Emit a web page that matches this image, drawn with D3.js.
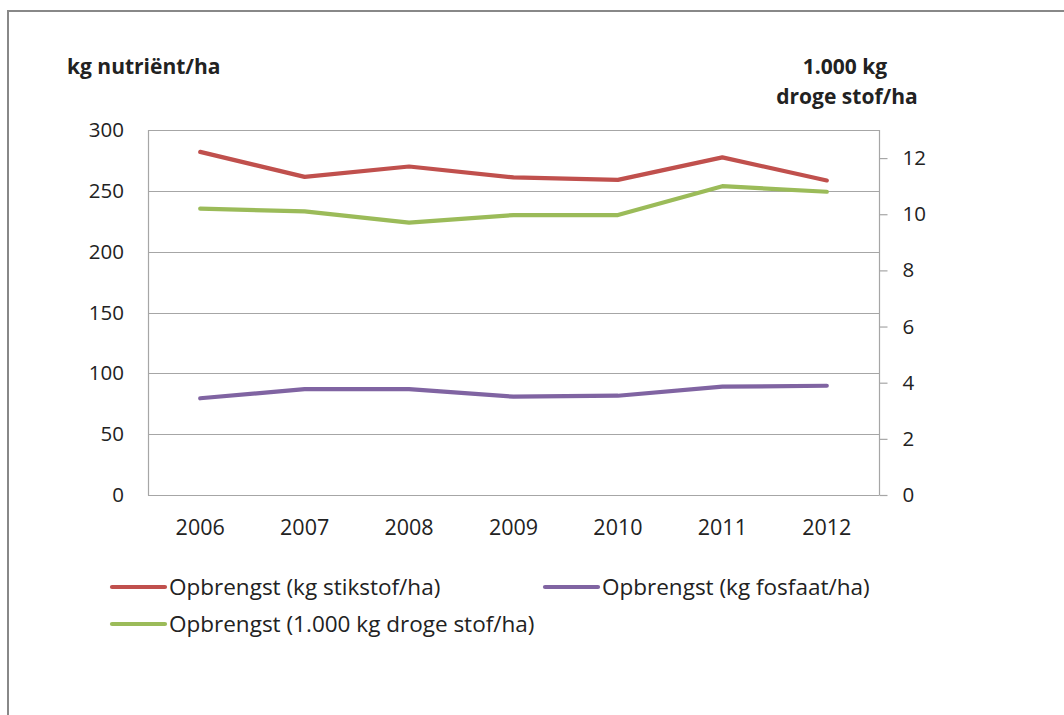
<!DOCTYPE html>
<html><head><meta charset="utf-8">
<script src="https://cdn.jsdelivr.net/npm/d3@7"></script>
<style>body{margin:0;background:#fff}svg{display:block}text{font-family:"Open Sans",Lato,sans-serif;fill:#222}</style>
</head><body>
<svg id="c" width="1064" height="715"></svg>
<script>
const years = ["2006","2007","2008","2009","2010","2011","2012"];
const stikstof = [282, 261.5, 270, 261, 259, 277.5, 258.5];
const fosfaat = [79.5, 87, 87, 80.8, 81.6, 89, 89.8];
const drogeStof = [10.2, 10.1, 9.7, 9.97, 9.97, 11.0, 10.8];
const leftTicks = [0, 50, 100, 150, 200, 250, 300];
const rightTicks = [0, 2, 4, 6, 8, 10, 12];
const seriesNames = ["Opbrengst (kg stikstof/ha)", "Opbrengst (kg fosfaat/ha)", "Opbrengst (1.000 kg droge stof/ha)"];
const colors = ["#C0504D", "#8064A2", "#9BBB59"];

const svg = d3.select("#c");
const L = 148, R = 879, T = 130, B = 495;
const x = d3.scaleBand().domain(years).range([L, R]);
const yL = d3.scaleLinear().domain([0, 300]).range([B, T]);
const yR = d3.scaleLinear().domain([0, 13]).range([B, T]);
const FONT = "Open Sans";

// outer frame
svg.append("path").attr("d", "M8,716 V11 H1065").attr("fill", "none").attr("stroke", "#888").attr("stroke-width", 2);

// gridlines
svg.append("g").selectAll("line").data(leftTicks).join("line")
  .attr("x1", L).attr("x2", R).attr("y1", d => Math.round(yL(d)) + 0.5).attr("y2", d => Math.round(yL(d)) + 0.5)
  .attr("stroke", "#a6a6a6").attr("stroke-width", 1.2);
// plot border axes
svg.append("line").attr("x1", L + 0.5).attr("x2", L + 0.5).attr("y1", T).attr("y2", B + 0.5).attr("stroke", "#a6a6a6").attr("stroke-width", 1.2);
svg.append("line").attr("x1", R + 0.5).attr("x2", R + 0.5).attr("y1", T).attr("y2", B + 0.5).attr("stroke", "#a6a6a6").attr("stroke-width", 1.2);

// left axis labels
const gl = svg.append("g").attr("transform", `translate(${L},0)`)
  .call(d3.axisLeft(yL).tickValues(leftTicks).tickSize(0).tickPadding(24));
gl.select(".domain").remove();
gl.selectAll("text").style("font-size", "20.5px").attr("fill", "#222").style("font-family", FONT);

// right axis
const gr = svg.append("g").attr("transform", `translate(${R + 0.5},0)`)
  .call(d3.axisRight(yR).tickValues(rightTicks).tickSize(8).tickPadding(15));
gr.select(".domain").remove();
gr.selectAll("line").attr("stroke", "#a6a6a6").attr("stroke-width", 1.2);
gr.selectAll("text").style("font-size", "20.5px").attr("fill", "#222").style("font-family", FONT);

// x axis labels
const gx = svg.append("g").attr("transform", `translate(0,${B})`)
  .call(d3.axisBottom(x).tickSize(0).tickPadding(25));
gx.select(".domain").remove();
gx.selectAll("text").style("font-size", "21.5px").attr("fill", "#222").style("font-family", FONT);

// lines
const cx = d => x(d) + x.bandwidth() / 2;
const lineL = d3.line().x((d, i) => cx(years[i])).y(d => yL(d));
const lineR = d3.line().x((d, i) => cx(years[i])).y(d => yR(d));
[[stikstof, lineL, 0], [fosfaat, lineL, 1], [drogeStof, lineR, 2]].forEach(([data, gen, i]) => {
  svg.append("path").attr("d", gen(data)).attr("fill", "none").attr("stroke", colors[i])
    .attr("stroke-width", 4.2).attr("stroke-linecap", "round").attr("stroke-linejoin", "round");
});

// axis titles
svg.append("text").attr("x", 67).attr("y", 74).style("font-size", "21px").style("font-weight", "bold").text("kg nutriënt/ha");
svg.append("text").attr("x", 845).attr("y", 74).attr("text-anchor", "middle").style("font-size", "21px").style("font-weight", "bold").text("1.000 kg");
svg.append("text").attr("x", 847).attr("y", 104).attr("text-anchor", "middle").style("font-size", "21px").style("font-weight", "bold").text("droge stof/ha");

// legend
const legendPos = [[112, 587], [545, 587], [112, 624]];
const lg = svg.append("g").selectAll("g").data(seriesNames).join("g")
  .attr("transform", (d, i) => `translate(${legendPos[i][0]},${legendPos[i][1]})`);
lg.append("line").attr("x1", 0).attr("x2", 53).attr("y1", 0).attr("y2", 0)
  .attr("stroke", (d, i) => colors[i]).attr("stroke-width", 4.2).attr("stroke-linecap", "round");
lg.append("text").attr("x", 57).attr("y", 8).style("font-size", "22.5px").text(d => d);
</script>
</body></html>
